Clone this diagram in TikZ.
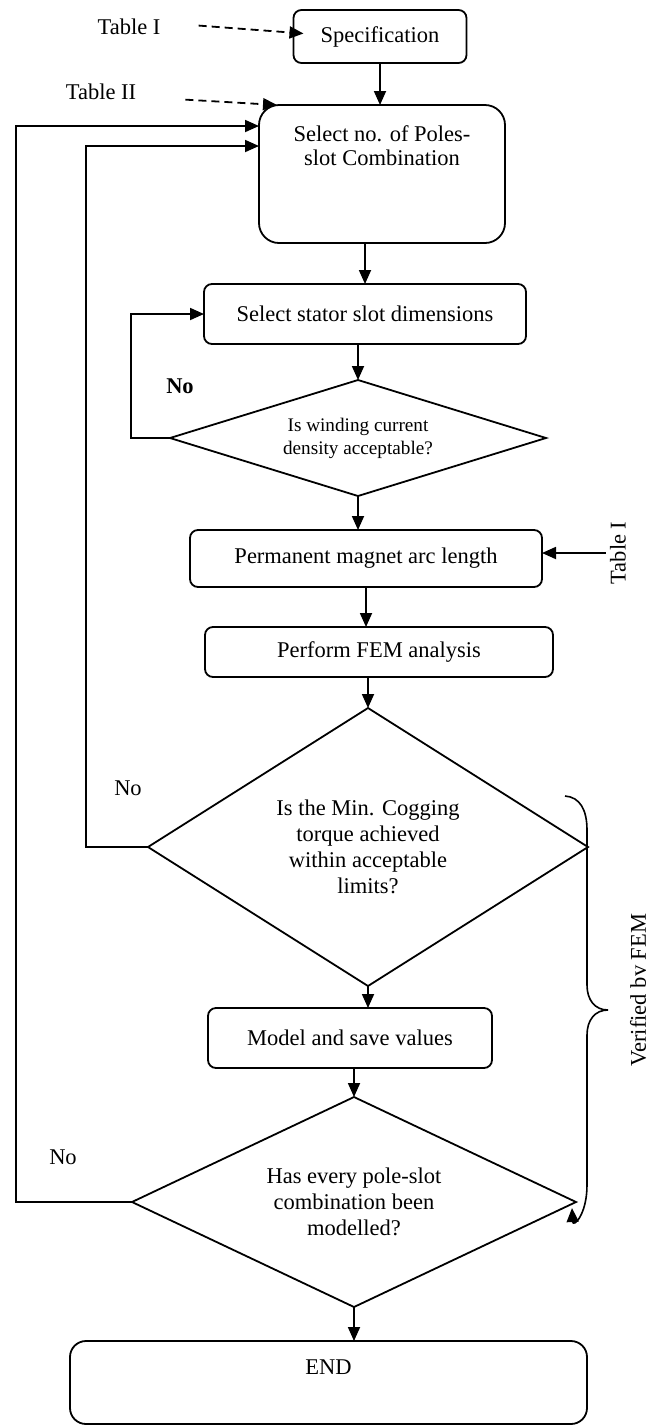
\documentclass[tikz,border=0pt]{standalone}
\usepackage{fontspec}
\setmainfont{Liberation Serif}
\usetikzlibrary{shapes.geometric, arrows, arrows.meta, positioning}
\tikzstyle{block} = [rectangle, 
			draw, 
			line width = 0.9pt,
			rounded corners = 4pt, 
			text centered, 
			inner sep = 0pt,
			outer sep = 0pt]
\tikzstyle{decision} = [diamond, 
			draw, 
			line width = 0.9pt,
			text centered, 
			align = center, 
			inner sep = 0pt,
			outer sep = 0pt]
\tikzstyle{note} = [inner sep = 2pt]
\tikzstyle{line} = [draw, line width = 0.9pt, -{Triangle[length=7pt, width=6pt]}]
\tikzstyle{dline} = [line, dash pattern = on 4pt off 2.5pt]

\begin{document}
\begin{tikzpicture}[x = 0.5pt, y = -0.5pt, node distance = 20pt, font = \fontsize{11.25}{13}\selectfont]
	\useasboundingbox (0,0) rectangle (662,1426);
	\node [block, minimum width = 86.5pt, minimum height = 26.5pt] (spec) at (380,36.5) {Specification};
	\node [block, rounded corners = 10pt, align = center, font = \fontsize{11.25}{12}\selectfont, text depth = 28pt, minimum width = 123pt, minimum height = 69pt, below = 21pt of spec, xshift = 1pt] (combo) {Select no. of Poles-\\slot Combination};
	\path [line] (spec.south) -- (spec.south |- combo.north);
	\node [block, minimum width = 161pt, minimum height = 30pt, below = 20.5pt of combo, xshift = -8.5pt] (stator) {Select stator slot dimensions};
	\path [line] (stator.north |- combo.south) -- (stator.north);
	\node [decision, font = \fontsize{9.6}{11.5}\selectfont, shape aspect = 3.2, minimum width = 188pt, minimum height = 58pt, below = 18pt of stator, xshift = -3.5pt] (winding) {Is winding current\\density acceptable?};
	\path [line] (winding.north |- stator.south) -- (winding.north);
	\node [block, minimum width = 176pt, minimum height = 28.5pt, below = 17pt of winding, xshift = 4pt] (magnet) {Permanent magnet arc length};
	\path [line] (winding.south) -- (winding.south |- magnet.north);
	\node [block, minimum width = 174pt, minimum height = 25pt, below = 20pt of magnet, xshift = 6.5pt] (fem) {Perform FEM analysis};
	\path [line] (magnet.south) -- (magnet.south |- fem.north);
	\node [decision, shape aspect = 1.58, minimum width = 220pt, minimum height = 139pt, below = 15.5pt of fem, xshift = -5.5pt] (cogging) {Is the Min. Cogging\\torque achieved\\within acceptable\\limits?};
	\path [line] (cogging.north |- fem.south) -- (cogging.north);
	\node [block, minimum width = 142pt, minimum height = 30pt, below = 11pt of cogging, xshift = -9pt] (model) {Model and save values};
	\path [line] (cogging.south) -- (cogging.south |- model.north);
	\node [decision, shape aspect = 2.11, minimum width = 222pt, minimum height = 105pt, below = 14.5pt of model, xshift = 2pt] (every) {Has every pole-slot\\combination been\\modelled?};
	\path [line] (every.north |- model.south) -- (every.north);
	\node [block, rounded corners = 8pt, text depth = 15pt, minimum width = 258.5pt, minimum height = 41.5pt, below = 17pt of every, xshift = -12.75pt] (finish) {END};
	\path [line] (every.south) -- (every.south |- finish.north);
	% inputs from the tables
	\node [note] (tabI) at (129,27) {Table I};
	\node [note] (tabII) at (101,92) {Table II};
	\node [note, rotate = 90] (tabIb) at (618,553) {Table I};
	\path [dline, shorten <= 17pt] ([yshift = 2pt]tabI.east) -- ([xshift = 5pt, yshift = 1.5pt]spec.west);
	\path [dline, shorten <= 22.5pt] ([yshift = -2.5pt]tabII.east) -- ([xshift = 9pt]combo.north west);
	\path [line] (tabIb.north) -- (tabIb.north -| magnet.east);
	% loops back
	\node [note, font = \fontsize{11.25}{13}\selectfont\bfseries] (noWinding) at (180,386) {No};
	\node [note] (noCogging) at (128,788) {No};
	\node [note] (noEvery) at (63,1157) {No};
	\path [line] (winding.west) -- ++(-39,0) |- (stator.west);
	\path [line] (cogging.west) -- ++(-62,0) |- ([yshift = 14pt]combo.west);
	\path [line] (every.west) -- ++(-116,0) |- ([yshift = 24pt]combo.west);
	% brace
	\node [note, rotate = 90] (verified) at (638,990) {Verified bv FEM};
	\draw [line width = 0.8pt, -{Triangle[length=7pt, width=6pt]}] ([xshift = -11.5pt, yshift = 25.5pt]cogging.east) .. controls (580,797) and (587,810) .. (587,830) -- (587,985) .. controls (587,1000) and (595,1010) .. (608,1010) .. controls (595,1010) and (587,1020) .. (587,1035) -- (587,1185) .. controls (587,1215) and (573,1228) .. ([xshift = -2pt, yshift = -3pt]every.east);
\end{tikzpicture}
\end{document}
